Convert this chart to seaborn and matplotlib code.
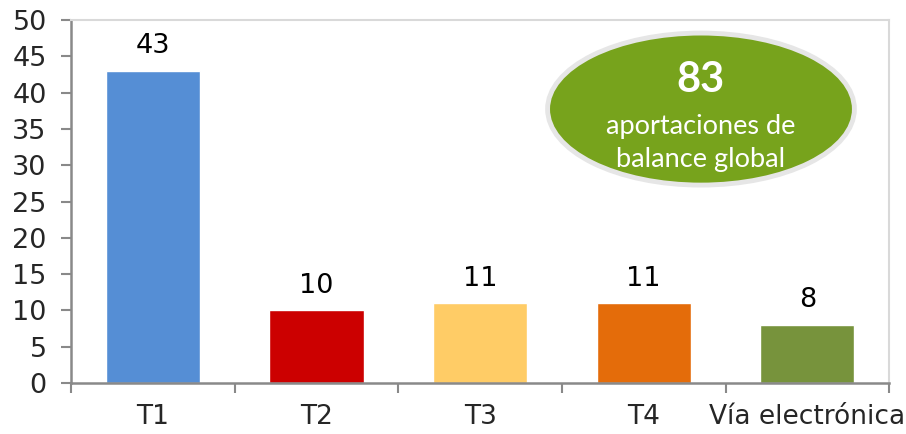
import matplotlib
matplotlib.use("Agg")
import matplotlib.pyplot as plt
import seaborn as sns
import pandas as pd
from matplotlib.patches import Ellipse

categories = ["T1", "T2", "T3", "T4", "Vía electrónica"]
values = [43, 10, 11, 11, 8]
bar_colors = ["#558ED5", "#CC0000", "#FFCC66", "#E46C0A", "#77933C"]
yticks = list(range(0, 55, 5))
total_value = "83"
total_caption = ["aportaciones de", "balance global"]

sns.set_theme(style="white")
plt.rcParams["font.family"] = ["DejaVu Sans"]

df = pd.DataFrame({"cat": categories, "val": values})

fig = plt.figure(figsize=(9.06, 4.34), dpi=100)
ax = fig.add_axes([0.0784, 0.1175, 0.903, 0.836])

sns.barplot(data=df, x="cat", y="val", hue="cat", palette=bar_colors,
            width=0.575, legend=False, saturation=1, ax=ax)

for i, v in enumerate(values):
    ax.text(i, v + 1.6, str(v), ha="center", va="bottom", fontsize=19.5, color="black")

ax.set_ylim(0, 50)
ax.set_xlim(-0.5, len(categories) - 0.5)
ax.set_yticks(yticks)
ax.set_xlabel(""); ax.set_ylabel("")

# axes styling
axis_col = "#898989"
for s in ["left", "bottom"]:
    ax.spines[s].set_color(axis_col)
    ax.spines[s].set_linewidth(1.8)
for s in ["top", "right"]:
    ax.spines[s].set_color("#D9D9D9")
    ax.spines[s].set_linewidth(1.5)

ax.tick_params(axis="y", length=7, width=1.5, color=axis_col, labelsize=19.5,
               pad=10.5, left=True, direction="out")
ax.set_xticks([i - 0.5 for i in range(len(categories) + 1)], minor=True)
ax.tick_params(axis="x", which="minor", length=7, width=1.5, color=axis_col,
               bottom=True, direction="out")
ax.tick_params(axis="x", which="major", length=0, labelsize=19, pad=15)

# summary bubble
ell = Ellipse((0.770, 0.755), 0.375, 0.419, transform=ax.transAxes,
              facecolor="#77A31C", edgecolor="#E6E6E6", linewidth=3.5, zorder=5)
ax.add_patch(ell)
ax.text(0.770, 0.835, total_value, transform=ax.transAxes, ha="center", va="center",
        fontsize=30, fontweight="bold", color="white", family="Lato", zorder=6)
ax.text(0.770, 0.708, total_caption[0], transform=ax.transAxes, ha="center", va="center",
        fontsize=19.5, color="white", family="Lato", zorder=6)
ax.text(0.770, 0.615, total_caption[1], transform=ax.transAxes, ha="center", va="center",
        fontsize=19.5, color="white", family="Lato", zorder=6)

fig.savefig("out.png", dpi=100)
